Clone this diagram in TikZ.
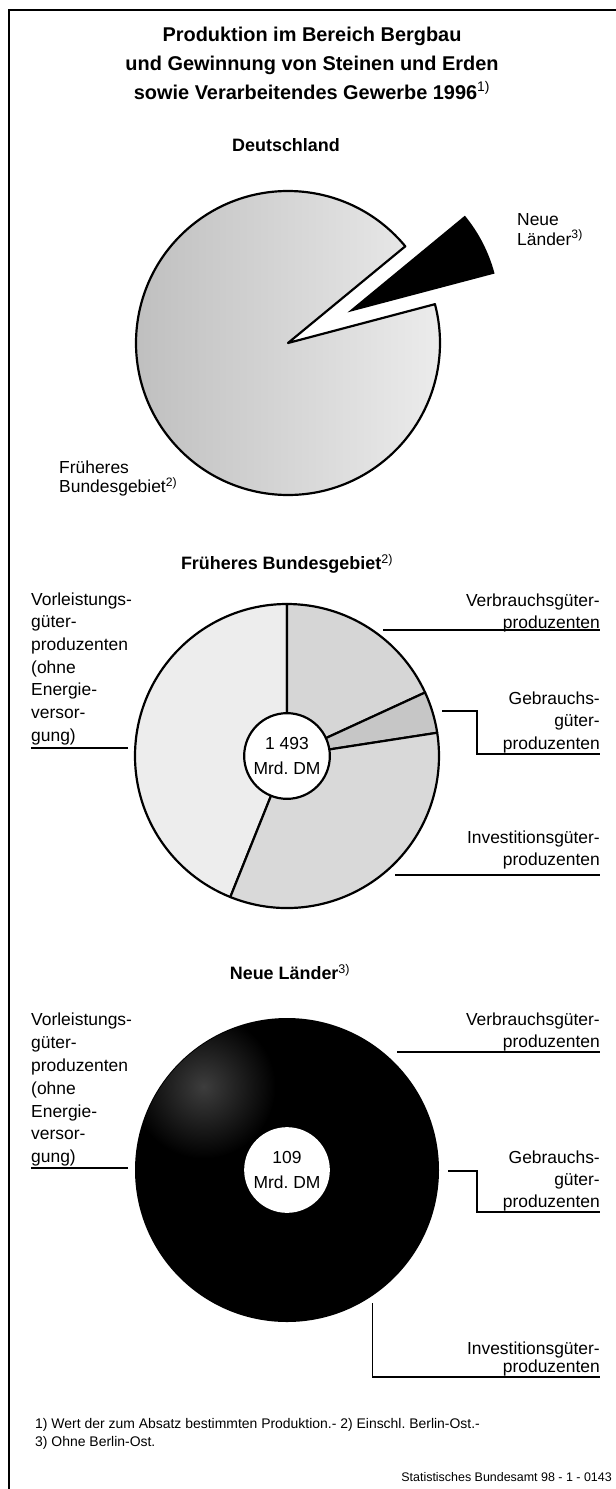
\documentclass[tikz,border=0pt]{standalone}
\usepackage{fontspec}
\setmainfont{Liberation Sans}
\usetikzlibrary{calc, positioning}
\frenchspacing

\tikzset{
  lbl/.style={inner sep=0pt, font=\fontsize{17.5}{22}\selectfont},
  lblr/.style={lbl, align=right, anchor=north east},
  lbll/.style={lbl, align=left, anchor=north west},
  head/.style={inner sep=0pt, anchor=base, font=\bfseries\fontsize{18}{22}\selectfont},
  rim/.style={line width=2.2pt, line join=round},
  lead/.style={line width=1.4pt}
}

\begin{document}
\begin{tikzpicture}[x=1bp, y=1bp]
\def\r{152}
\useasboundingbox (0,0) rectangle (616,-1489);
\fill[white] (0,0) rectangle (616,-1489);
\draw[line width=1.8pt] (616,-10) -- (9,-10) -- (9,-1489);

\node[inner sep=0pt, anchor=north, align=center, font=\bfseries\fontsize{20}{29}\selectfont] (title) at (312,-27)
  {Produktion im Bereich Bergbau\\und Gewinnung von Steinen und Erden\\sowie Verarbeitendes Gewerbe 1996\textsuperscript{\mdseries 1)}};

\node[head] (hD) at (286,-151.5) {Deutschland};
\coordinate (D) at (288,-343);
\shade[left color=gray!52, right color=gray!14]
  (D) -- ++(39.5:\r) arc[start angle=39.5, end angle=374.8, radius=\r] -- cycle;
\draw[rim] (D) -- ++(39.5:\r) arc[start angle=39.5, end angle=374.8, radius=\r] -- cycle;
\coordinate (DN) at ($(D)+(27.2:67)$);
\fill (DN) -- ++(14.8:\r) arc[start angle=14.8, end angle=39.5, radius=\r] -- cycle;
\node[lbll, font=\fontsize{17.5}{20}\selectfont] (lNL) at (517,-213) {Neue\\Länder\textsuperscript{3)}};
\node[lbll, font=\fontsize{17.5}{19.5}\selectfont] (lFB) at (59,-460.5) {Früheres\\Bundesgebiet\textsuperscript{2)}};

\node[head] (hW) at (287,-569.5) {Früheres Bundesgebiet\textsuperscript{\mdseries 2)}};
\coordinate (W) at (287,-756);
\foreach \s/\e/\c in {90/248.1/gray!14, 24.7/90/gray!32, 8.8/24.7/gray!45, -111.9/8.8/gray!30}
  \filldraw[fill=\c, rim] (W) -- ++(\s:\r) arc[start angle=\s, end angle=\e, radius=\r] -- cycle;
\node[circle, draw, rim, fill=white, minimum size=86pt, inner sep=0pt, align=center,
  font=\fontsize{17.5}{25}\selectfont] (Wc) at (W) {1~493\\Mrd. DM};

\node[lbll, font=\fontsize{17.5}{22.7}\selectfont] (WVl) at (31,-592.5)
  {Vorleistungs-\\güter-\\produzenten\\(ohne\\Energie-\\versor-\\gung)};
\node[lblr] (WVb) at (600,-593.5) {Verbrauchsgüter-\\produzenten};
\node[lblr, font=\fontsize{17.5}{22.5}\selectfont] (WGb) at (600,-691.5) {Gebrauchs-\\güter-\\produzenten};
\node[lblr] (WIv) at (600,-830.5) {Investitionsgüter-\\produzenten};

\coordinate (WVlE) at (128,-748);
\draw[lead] (WVlE) -- (WVlE -| WVl.west);
\coordinate (WVbE) at (383,-630);
\draw[lead] (WVbE) -- (WVbE -| WVb.east);
\coordinate (WGbE) at (442,-711);
\coordinate (WGbK) at (477,-754);
\draw[lead] (WGbE) -| (WGbK) -- (WGbK -| WGb.east);
\coordinate (WIvE) at (395,-875);
\draw[lead] (WIvE) -- (WIvE -| WIv.east);

\node[head] (hN) at (290,-979.5) {Neue Länder\textsuperscript{\mdseries 3)}};
\coordinate (N) at (287,-1170);
\fill (N) circle[radius=\r];
\begin{scope}
  \clip (N) circle[radius=\r-1];
  \shade[inner color=black!76, outer color=black] ($(N)+(135:118)$) circle[radius=72];
\end{scope}
\node[circle, fill=white, minimum size=86pt, inner sep=0pt, align=center,
  font=\fontsize{17.5}{25}\selectfont] (Nc) at (N) {109\\Mrd. DM};

\node[lbll, font=\fontsize{17.5}{23}\selectfont] (NVl) at (31,-1012.5)
  {Vorleistungs-\\güter-\\produzenten\\(ohne\\Energie-\\versor-\\gung)};
\node[lblr] (NVb) at (600,-1012.5) {Verbrauchsgüter-\\produzenten};
\node[lblr] (NGb) at (600,-1150.5) {Gebrauchs-\\güter-\\produzenten};
\node[lblr, font=\fontsize{17.5}{18}\selectfont] (NIv) at (600,-1341.5) {Investitionsgüter-\\produzenten};

\coordinate (NVlE) at (128,-1168);
\draw[lead] (NVlE) -- (NVlE -| NVl.west);
\coordinate (NVbE) at (397,-1052);
\draw[lead] (NVbE) -- (NVbE -| NVb.east);
\coordinate (NGbE) at (448,-1171);
\coordinate (NGbK) at (477,-1212);
\draw[lead] (NGbE) -| (NGbK) -- (NGbK -| NGb.east);
\coordinate (NIvE) at (372.5,-1303);
\coordinate (NIvK) at (372.5,-1377);
\draw[lead] (NIvE) -- (NIvK) -- (NIvK -| NIv.east);

\node[lbll, font=\fontsize{14}{18}\selectfont] (fn) at (35,-1418)
  {1) Wert der zum Absatz bestimmten Produktion.- 2) Einschl. Berlin-Ost.-\\3) Ohne Berlin-Ost.};
\node[inner sep=0pt, anchor=base east, font=\fontsize{12.5}{14}\selectfont] (src) at (612,-1481.5)
  {Statistisches Bundesamt 98 - 1 - 0143};
\end{tikzpicture}
\end{document}
